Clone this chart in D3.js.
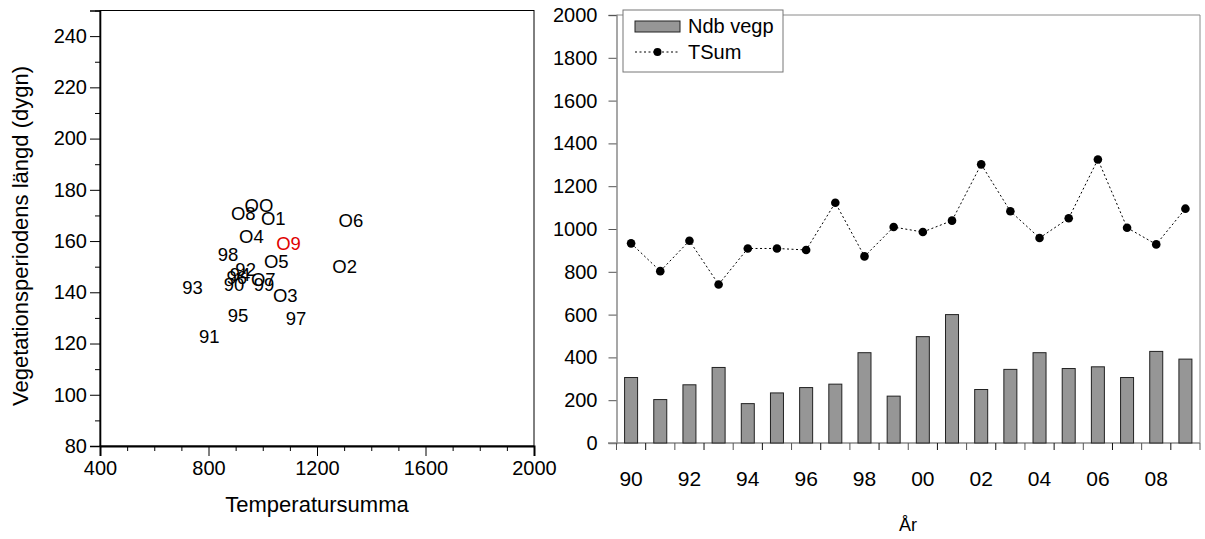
<!DOCTYPE html>
<html><head><meta charset="utf-8">
<script src="https://cdn.jsdelivr.net/npm/d3@7"></script>
<style>
body{margin:0;background:#fff;}
svg text{font-family:"Liberation Sans",Arial,sans-serif;fill:#000;}
</style></head>
<body><svg id="c" width="1205" height="539"></svg>
<script>
// ---- Right panel data ----
const years = [1990,1991,1992,1993,1994,1995,1996,1997,1998,1999,2000,2001,2002,2003,2004,2005,2006,2007,2008,2009];
const ndbVegp = [306,203,272,353,184,234,259,275,422,219,497,600,250,344,422,348,356,306,428,392];
const tSum = [933,803,945,741,909,909,902,1123,872,1009,986,1039,1302,1083,958,1050,1325,1006,928,1095];
const yearTickLabels = ["90","92","94","96","98","00","02","04","06","08"];
const rightYTicks = [0,200,400,600,800,1000,1200,1400,1600,1800,2000];

// ---- Left panel (scatter) data ----
const scatterLabels = ["90","91","92","93","94","95","96","97","98","99","OO","O1","O2","O3","O4","O5","O6","O7","O8","O9"];
const scatterTemp = [894,803,937,741,916,909,904,1123,872,1005,986,1039,1302,1083,958,1050,1325,1002,928,1095];
const scatterDays = [143,123,149,142,147,131,146,130,155,143,174,169,150,139,162,152,168,145,171,159];
const scatterColors = ["#000","#000","#000","#000","#000","#000","#000","#000","#000","#000","#000","#000","#000","#000","#000","#000","#000","#000","#000","#e00000"];
const leftXTicks = [400,800,1200,1600,2000];
const leftYTicks = [80,100,120,140,160,180,200,220,240];

const svg = d3.select("#c");

// ================= LEFT PANEL =================
const lx = d3.scaleLinear().domain([400,2000]).range([100,534]);
const ly = d3.scaleLinear().domain([80,250]).range([446,10.5]);
const L = svg.append("g");

L.append("rect").attr("x",100).attr("y",10.5).attr("width",434).attr("height",435.5)
  .attr("fill","none").attr("stroke","#000").attr("stroke-width",1);

const lyAxis = L.append("g").attr("transform","translate(100,0)")
  .call(d3.axisLeft(ly).tickValues(leftYTicks).tickSize(10).tickPadding(3).tickFormat(d3.format("d")));
lyAxis.select(".domain").attr("stroke","#000").attr("stroke-width",1.6);
lyAxis.selectAll("text").attr("font-size",20);
L.append("g").attr("transform","translate(100,0)")
  .call(d3.axisLeft(ly).tickValues(d3.range(90,251,20)).tickSize(5).tickFormat(""))
  .select(".domain").remove();

const lxAxis = L.append("g").attr("transform","translate(0,446)")
  .call(d3.axisBottom(lx).tickValues(leftXTicks).tickSize(10).tickPadding(5).tickFormat(d3.format("d")));
lxAxis.select(".domain").attr("stroke","#000").attr("stroke-width",2);
lxAxis.selectAll("text").attr("font-size",20);
L.append("g").attr("transform","translate(0,446)")
  .call(d3.axisBottom(lx).tickValues(d3.range(500,2000,100).filter(v=>v%400!==0)).tickSize(5).tickFormat(""))
  .select(".domain").remove();

L.selectAll("text.pt").data(scatterLabels).enter().append("text")
  .attr("class","pt")
  .attr("x",(d,i)=>lx(scatterTemp[i]))
  .attr("y",(d,i)=>ly(scatterDays[i]))
  .attr("dy","0.36em")
  .attr("text-anchor","middle")
  .attr("font-size",18.5)
  .style("fill",(d,i)=>scatterColors[i])
  .text(d=>d);

L.append("text").attr("x",317).attr("y",512).attr("text-anchor","middle")
  .attr("font-size",22).text("Temperatursumma");
L.append("text").attr("transform","translate(28,236) rotate(-90)").attr("text-anchor","middle")
  .attr("font-size",22).text("Vegetationsperiodens längd (dygn)");

// ================= RIGHT PANEL =================
const rx = d3.scaleBand().domain(years).range([616.5,1200]).paddingInner(0).paddingOuter(0);
const ry = d3.scaleLinear().domain([0,2000]).range([443,15]);
const R = svg.append("g");
const gray = "#8a8a8a";

R.append("line").attr("x1",616.5).attr("x2",1200).attr("y1",15).attr("y2",15).attr("stroke",gray);
R.append("line").attr("x1",1200).attr("x2",1200).attr("y1",15).attr("y2",443).attr("stroke",gray);

const ryAxis = R.append("g").attr("transform","translate(616.5,0)")
  .call(d3.axisLeft(ry).tickValues(rightYTicks).tickSize(8).tickPadding(11).tickFormat(d3.format("d")));
ryAxis.select(".domain").attr("stroke",gray).attr("stroke-width",1.5);
ryAxis.selectAll("line").attr("stroke","#555");
ryAxis.selectAll("text").attr("font-size",20);

const rxAxisG = R.append("g").attr("transform","translate(0,443)");
rxAxisG.append("line").attr("x1",608).attr("x2",1200).attr("y1",0).attr("y2",0).attr("stroke",gray).attr("stroke-width",1.5);
const bounds = years.map(y=>rx(y)).concat([rx(years[years.length-1])+rx.bandwidth()]);
rxAxisG.selectAll("line.bt").data(bounds).enter().append("line").attr("class","bt")
  .attr("x1",d=>d).attr("x2",d=>d).attr("y1",0).attr("y2",7)
  .attr("stroke",(d,i)=> i%2===0 ? "#555" : "#111");
rxAxisG.selectAll("text.yl").data(yearTickLabels).enter().append("text").attr("class","yl")
  .attr("x",(d,i)=>rx(years[i*2])+rx.bandwidth()/2)
  .attr("y",43).attr("text-anchor","middle").attr("font-size",21).text(d=>d);

const bw = 13;
R.selectAll("rect.bar").data(ndbVegp).enter().append("rect").attr("class","bar")
  .attr("x",(d,i)=>rx(years[i])+rx.bandwidth()/2-bw/2)
  .attr("y",d=>ry(d))
  .attr("width",bw)
  .attr("height",d=>ry(0)-ry(d))
  .attr("fill","#969696").attr("stroke","#222").attr("stroke-width",1);

const line = d3.line().x((d,i)=>rx(years[i])+rx.bandwidth()/2).y(d=>ry(d));
R.append("path").datum(tSum).attr("d",line).attr("fill","none")
  .attr("stroke","#000").attr("stroke-width",1).attr("stroke-dasharray","2,2.5");
R.selectAll("circle.pt").data(tSum).enter().append("circle").attr("class","pt")
  .attr("cx",(d,i)=>rx(years[i])+rx.bandwidth()/2).attr("cy",d=>ry(d)).attr("r",4.3).attr("fill","#000");

R.append("text").attr("x",908).attr("y",531).attr("text-anchor","middle").attr("font-size",18).text("År");

const lg = R.append("g");
lg.append("rect").attr("x",623).attr("y",10).attr("width",160).attr("height",62)
  .attr("fill","#fff").attr("stroke","#777");
lg.append("rect").attr("x",635).attr("y",21).attr("width",45).attr("height",11)
  .attr("fill","#969696").attr("stroke","#222");
lg.append("text").attr("x",688).attr("y",33).attr("font-size",20).text("Ndb vegp");
lg.append("line").attr("x1",635).attr("x2",680).attr("y1",52).attr("y2",52)
  .attr("stroke","#000").attr("stroke-dasharray","2,2.5");
lg.append("circle").attr("cx",657.5).attr("cy",52).attr("r",4).attr("fill","#000");
lg.append("text").attr("x",688).attr("y",59).attr("font-size",20).text("TSum");
</script></body></html>
